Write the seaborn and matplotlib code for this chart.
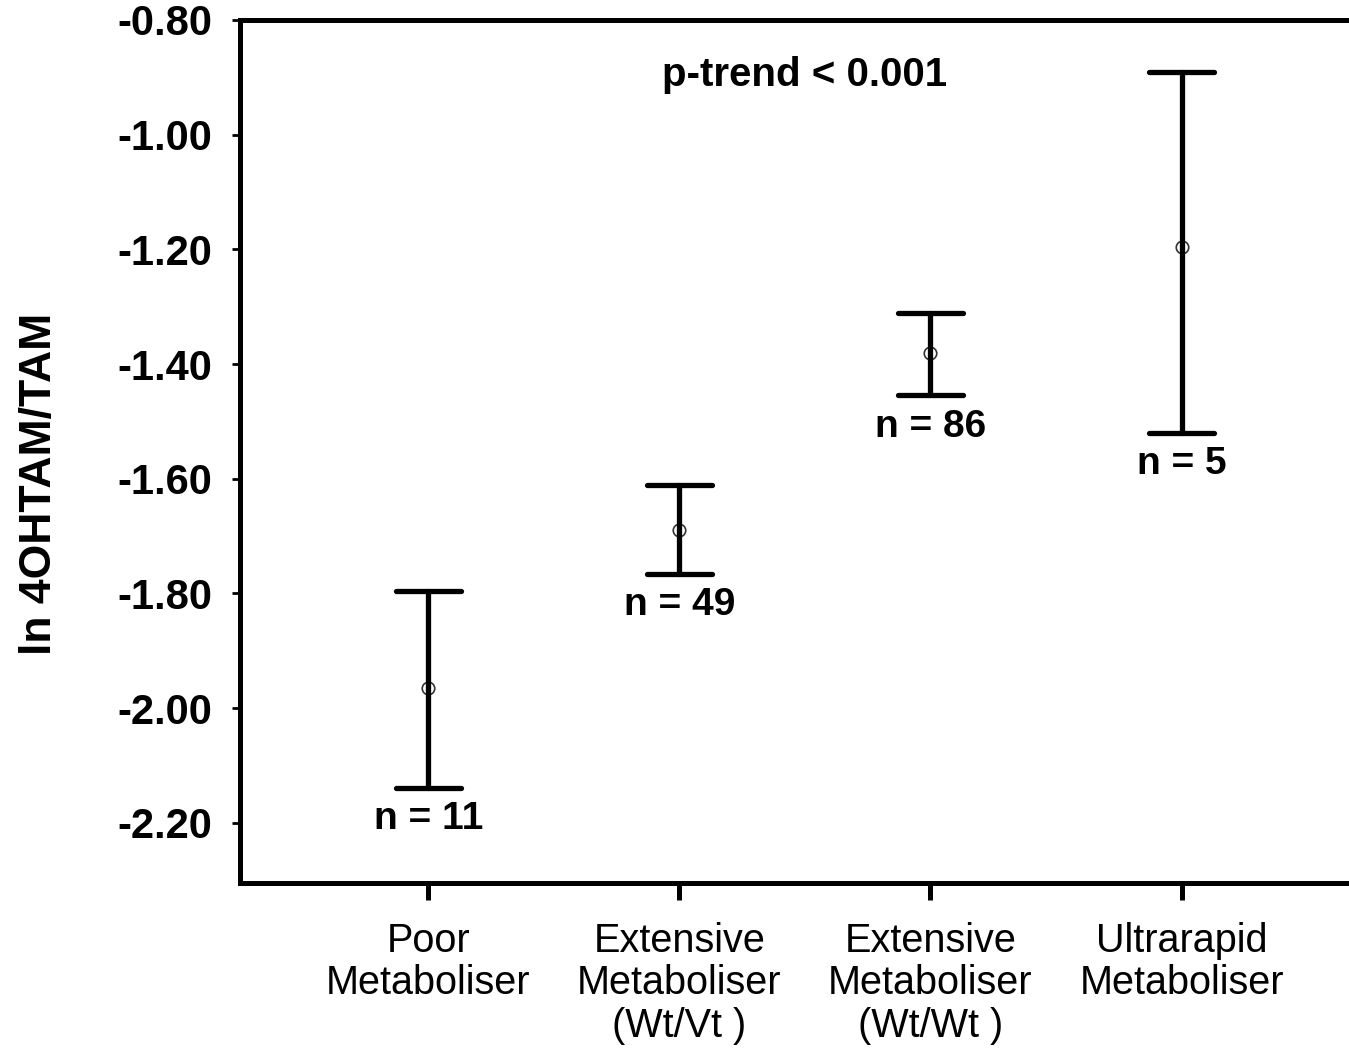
import numpy as np
import pandas as pd
import matplotlib
matplotlib.use("Agg")
import matplotlib.pyplot as plt
import seaborn as sns

# values
groups = ["Poor\nMetaboliser",
          "Extensive\nMetaboliser\n(Wt/Vt )",
          "Extensive\nMetaboliser\n(Wt/Wt )",
          "Ultrarapid\nMetaboliser"]
means = [-1.965, -1.689, -1.381, -1.196]
lower = [-2.139, -1.766, -1.454, -1.520]
upper = [-1.796, -1.611, -1.311, -0.891]
n_counts = [11, 49, 86, 5]
y_ticks = [-0.80, -1.00, -1.20, -1.40, -1.60, -1.80, -2.00, -2.20]

# long table: lower / mean / upper per group, median gives the mean, min-max gives the interval
rows = []
for g, lo, m, hi in zip(groups, lower, means, upper):
    for v in (lo, m, hi):
        rows.append({"group": g, "value": v})
df = pd.DataFrame(rows)

sns.set_style("ticks")
plt.rcParams["font.family"] = ["Liberation Sans", "DejaVu Sans"]
plt.rcParams["text.color"] = "black"
plt.rcParams["xtick.color"] = "black"
plt.rcParams["ytick.color"] = "black"
plt.rcParams["axes.labelcolor"] = "black"

fig = plt.figure(figsize=(13.49, 10.5), dpi=100)
ax = fig.add_axes([0.1779, 0.159, 0.832, 0.822])

sns.pointplot(data=df, x="group", y="value", order=groups,
              estimator="median", errorbar=lambda v: (v.min(), v.max()),
              capsize=0.26, color="black", linestyle="none",
              markers="o", markersize=9, markerfacecolor="none",
              markeredgecolor="#333333", markeredgewidth=1.2,
              err_kws={"linewidth": 3.8, "color": "black"}, ax=ax)

# n labels under each lower cap
for i, (lo, n) in enumerate(zip(lower, n_counts)):
    ax.text(i, lo - 0.055, f"n = {n}", ha="center", va="center",
            fontsize=28, fontweight="bold")

ax.text(1.5, -0.896, "p-trend < 0.001", ha="center", va="center",
        fontsize=29, fontweight="bold")

ax.set_xlim(-0.75, 3.72)
ax.set_ylim(-2.305, -0.80)
ax.set_yticks(y_ticks)
ax.set_yticklabels([f"{t:.2f}" for t in y_ticks], fontsize=30, fontweight="bold")
ax.set_xticks(range(len(groups)))
ax.set_xticklabels(groups, fontsize=28.5, linespacing=1.15)
ax.tick_params(axis="x", length=12, width=3.6, pad=16)
ax.tick_params(axis="y", length=6, width=2, pad=14)
ax.set_xlabel("")
ax.set_ylabel("ln 4OHTAM/TAM", fontsize=32, fontweight="bold")
ax.yaxis.set_label_coords(-0.160, 0.463)

for side in ["left", "bottom", "top"]:
    ax.spines[side].set_linewidth(3.6)
    ax.spines[side].set_color("black")
ax.spines["right"].set_visible(False)

fig.savefig("out.png", dpi=100)
